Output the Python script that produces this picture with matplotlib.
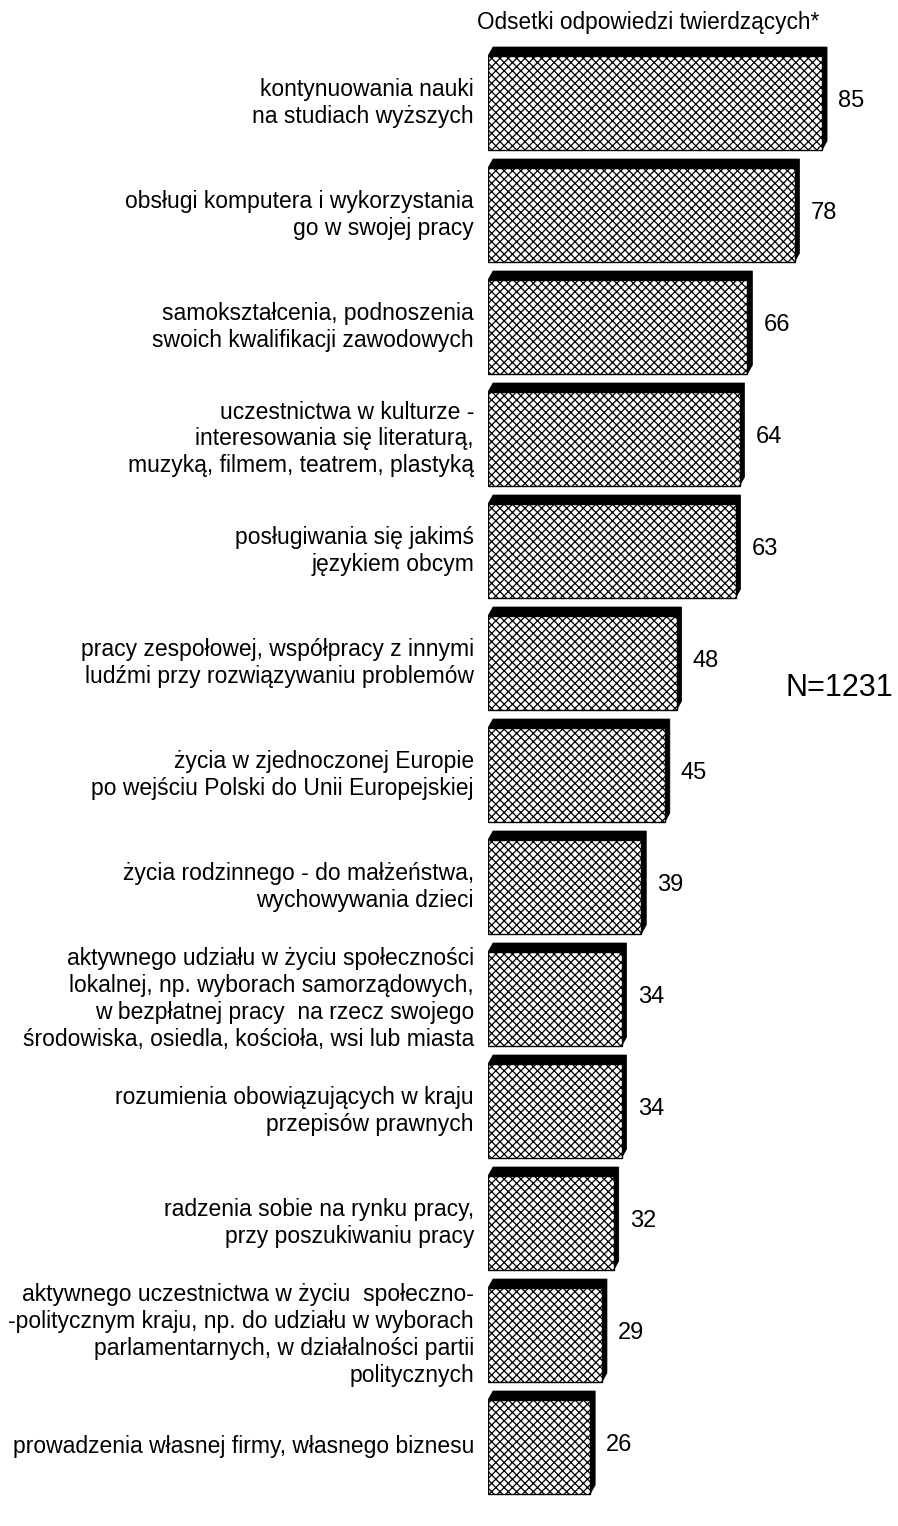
import matplotlib
matplotlib.use("Agg")
import matplotlib.pyplot as plt
from matplotlib.patches import Polygon, Rectangle

plt.rcParams['font.family'] = ['Liberation Sans', 'DejaVu Sans']
plt.rcParams['hatch.linewidth'] = 0.9

categories = [
    "kontynuowania nauki\nna studiach wyższych",
    "obsługi komputera i wykorzystania\ngo w swojej pracy",
    "samokształcenia, podnoszenia\nswoich kwalifikacji zawodowych",
    "uczestnictwa w kulturze -\ninteresowania się literaturą,\nmuzyką, filmem, teatrem, plastyką",
    "posługiwania się jakimś\njęzykiem obcym",
    "pracy zespołowej, współpracy z innymi\nludźmi przy rozwiązywaniu problemów",
    "życia w zjednoczonej Europie\npo wejściu Polski do Unii Europejskiej",
    "życia rodzinnego - do małżeństwa,\nwychowywania dzieci",
    "aktywnego udziału w życiu społeczności\nlokalnej, np. wyborach samorządowych,\nw bezpłatnej pracy  na rzecz swojego\nśrodowiska, osiedla, kościoła, wsi lub miasta",
    "rozumienia obowiązujących w kraju\nprzepisów prawnych",
    "radzenia sobie na rynku pracy,\nprzy poszukiwaniu pracy",
    "aktywnego uczestnictwa w życiu  społeczno-\n-politycznym kraju, np. do udziału w wyborach\nparlamentarnych, w działalności partii\npolitycznych",
    "prowadzenia własnej firmy, własnego biznesu",
]
values = [85, 78, 66, 64, 63, 48, 45, 39, 34, 34, 32, 29, 26]
title_text = "Odsetki odpowiedzi twierdzących*"
n_text = "N=1231"

W, H = 898, 1526
fig = plt.figure(figsize=(W / 100, H / 100), dpi=100)

x0_px = 488.0
px_per_unit = 3.93
row_px = 112.0
first_center_px = 103.0

ax = fig.add_axes([x0_px / W, 0, (W - x0_px) / W, 1])
ax.set_xlim(0, (W - x0_px) / px_per_unit)
ax.set_ylim((H - first_center_px) / row_px, -first_center_px / row_px)
ax.axis('off')

bar_h = 94 / row_px
dx = 5 / px_per_unit
dy = 9 / row_px

for i, (lab, v) in enumerate(zip(categories, values)):
    top = i - bar_h / 2
    bot = i + bar_h / 2
    shadow = Polygon([(0, top), (dx, top - dy), (v + dx, top - dy),
                      (v + dx, bot - dy), (v, bot)],
                     closed=True, facecolor='black', edgecolor='black',
                     linewidth=0.5, zorder=2)
    ax.add_patch(shadow)
    face = Rectangle((0, top), v, bar_h, facecolor='white', edgecolor='black',
                     hatch='xxxx', linewidth=1.0, zorder=3)
    ax.add_patch(face)
    ax.text(v + dx + 2.8, i - 0.02, str(v), ha='left', va='center',
            fontsize=17, zorder=4)
    fig.text((x0_px - 14) / W, 1 - (first_center_px + i * row_px) / H, lab,
             ha='right', va='center', multialignment='right',
             fontsize=16.5, linespacing=1.22)

fig.text(477 / W, 1 - 22 / H, title_text, ha='left', va='center', fontsize=16.3)
fig.text(786 / W, 1 - 688 / H, n_text, ha='left', va='center', fontsize=22)

fig.savefig("out.png", dpi=100)
